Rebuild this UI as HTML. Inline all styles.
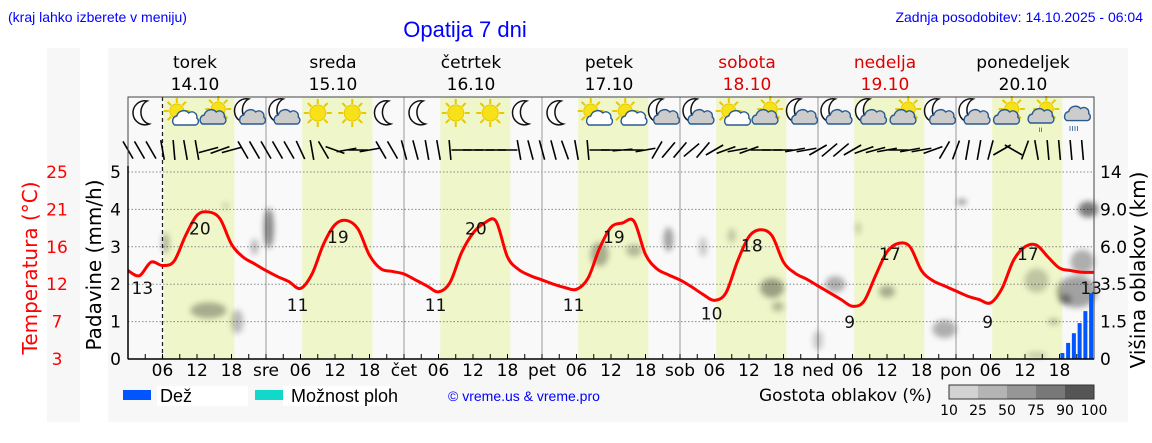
<!DOCTYPE html>
<html><head><meta charset="utf-8">
<style>
body{margin:0;background:#fff;width:1152px;height:443px;overflow:hidden;font-family:"Liberation Sans",sans-serif;}
svg{display:block}
</style></head>
<body>
<svg id="chart" width="1152" height="443" viewBox="0 0 1152 443" font-family="DejaVu Sans, Liberation Sans, sans-serif">
<defs>
<filter id="blur" x="-50%" y="-50%" width="200%" height="200%"><feGaussianBlur stdDeviation="3"/></filter>
</defs>
<rect x="47" y="48" width="33" height="374" fill="#f7f7f7"/>
<rect x="108" y="48" width="1020" height="374" fill="#f7f7f7"/>
<text x="8" y="22" font-size="14" fill="#0000ff" font-family="Liberation Sans, sans-serif">(kraj lahko izberete v meniju)</text>
<text x="465" y="37" font-size="22" fill="#0000ff" text-anchor="middle" font-family="Liberation Sans, sans-serif">Opatija 7 dni</text>
<text x="1143" y="22" font-size="14" fill="#0000ff" text-anchor="end" font-family="Liberation Sans, sans-serif">Zadnja posodobitev: 14.10.2025 - 06:04</text>
<g id="days"></g>
<rect x="128" y="97" width="966" height="262" fill="#f9f9f9"/>
<g id="bands"></g>
<g id="grid"></g>
<g id="clouds" filter="url(#blur)"></g>
<g id="icons"></g>
<g id="wind"></g>
<g id="bars"></g>
<g id="temp"></g>
<g id="axes"></g>
<text transform="translate(37,268) rotate(-90)" font-size="20" fill="#ff0000" text-anchor="middle">Temperatura (°C)</text>
<text transform="translate(101,265) rotate(-90)" font-size="20" fill="#000" text-anchor="middle">Padavine (mm/h)</text>
<text transform="translate(1145,270) rotate(-90)" font-size="20" fill="#000" text-anchor="middle">Višina oblakov (km)</text>
<g>
<rect x="123" y="390" width="28" height="10" fill="#0055ff"/>
<rect x="157" y="386" width="91" height="20" fill="#fff"/>
<text x="160" y="402" font-size="18" fill="#000" font-family="Liberation Sans, sans-serif">Dež</text>
<rect x="255" y="390" width="28" height="10" fill="#11d8c8"/>
<rect x="283" y="386" width="107" height="20" fill="#fff"/>
<text x="291" y="402" font-size="18" fill="#000" font-family="Liberation Sans, sans-serif">Možnost ploh</text>
<text x="448" y="401" font-size="14" fill="#0000ff" font-family="Liberation Sans, sans-serif">© vreme.us &amp; vreme.pro</text>
<text x="759" y="401" font-size="17" fill="#000">Gostota oblakov (%)</text>
<g id="cbar"></g>
</g>
</svg>
<script>
const dayNames=["torek","sreda","četrtek","petek","sobota","nedelja","ponedeljek"];
const dayDates=["14.10","15.10","16.10","17.10","18.10","19.10","20.10"];
const dayAbbr=["","sre","čet","pet","sob","ned","pon"];
const weekend=[false,false,false,false,true,true,false];
const tempLeftTicks=[3,7,12,16,21,25];
const precipTicks=[0,1,2,3,4,5];
const cloudTicks=["0","1.5","3.5","6.0","9.0","14"];
// temperature every 2 hours, 14.10 00:00 .. 21.10 00:00
const temps=[13.4,12.8,14.4,14.0,14.5,17.5,19.9,20.3,19.5,16.5,15.0,14.2,
13.4,12.7,12.1,11.3,13.0,16.5,18.8,19.3,18.3,15.2,13.6,13.3,
13.0,12.3,11.6,10.9,12.0,15.5,17.8,19.0,19.2,15.0,13.5,12.8,
12.3,11.8,11.4,11.2,12.5,16.0,18.5,19.0,19.2,15.3,13.6,12.9,
12.3,11.5,10.6,9.9,10.8,14.5,17.4,18.2,17.5,14.4,13.1,12.4,
11.6,10.8,10.0,9.2,9.8,12.8,15.6,16.6,16.2,13.4,12.2,11.6,
11.0,10.4,10.0,9.6,11.3,14.6,16.2,16.4,15.0,13.7,13.4,13.2,13.2];
const tempLabelHours=[2.5,12.5,29.5,36.5,53.5,60.5,77.5,84.5,101.5,108.5,125.5,132.5,149.5,156.5,167.5];
const tempLabelValues=[13,20,11,19,11,20,11,19,10,18,9,17,9,17,13];
const rainHours=[162,163,164,165,166,167];
const rainValues=[0.16,0.43,0.69,0.96,1.28,1.76];
const iconTypes=["m","sc","cs","mc","mc","s","s","m","m","s","s","m","m","sc","sc","mc","mc","sc","cs","mc","mc","mc","cs","mc","mc","cs","cr","r"];
const windAngles=[60,60,60,80,85,80,80,-15,-20,-15,60,60,
60,60,60,65,80,60,20,-10,0,-10,60,60,
75,75,80,80,85,0,0,0,0,0,80,75,
75,75,70,80,85,0,0,-5,0,-10,-60,-50,
-50,-40,-50,-30,-20,-10,-20,0,0,0,-10,-10,
-30,-40,-40,-30,-20,-15,-10,0,-10,-10,-20,-60,
-70,-80,-80,-75,-30,30,-70,80,85,85,85,85];
const cloudBlobs=[[6.5,3.1,4,10,0.25],[14,1.3,18,8,0.3],[19,1.0,6,12,0.25],[17,4.1,3,3,0.2],[24.5,3.5,5,20,0.45],[22,3.0,4,8,0.25],
[82,2.8,9,12,0.3],[88,2.9,8,6,0.25],[94,3.2,5,12,0.35],[100,3.0,4,10,0.2],[105,3.3,4,7,0.2],
[112,1.9,12,10,0.35],[113,1.4,6,5,0.25],[123,2.0,10,8,0.3],[132,1.8,8,6,0.3],[127,3.5,2,6,0.25],[142,0.8,12,9,0.3],[120,0.5,5,10,0.2],
[145,4.2,5,3,0.4],[158,0.1,10,3,0.2],[161,1.0,6,3,0.25],[167,4.0,10,8,0.5],[165,1.8,20,16,0.35],[163,1.6,6,5,0.35],[166,2.6,12,12,0.3],[158,2.1,12,12,0.2]];
const cbarColors=["#d2d2d2","#b4b4b4","#969696","#787878","#555555"];
const cbarLabels=["10","25","50","75","90","100"];

const NS="http://www.w3.org/2000/svg";
const X0=128,X1=1094,Y0=359,UNIT=37.4,HOURS=168;
const xH=h=>X0+h*(X1-X0)/HOURS;
const yP=p=>Y0-p*UNIT;
const yT=t=>yP((t-3)/4.4);
function mk(tag,attrs,parent,text){const e=document.createElementNS(NS,tag);for(const k in attrs)e.setAttribute(k,attrs[k]);if(text!==undefined)e.textContent=text;parent.appendChild(e);return e;}
const G=id=>document.getElementById(id);

dayNames.forEach((n,i)=>{
  const cx=xH(i*24+12)-2, col=weekend[i]?"#dd0000":"#000";
  let t=mk("text",{x:cx,y:68,"font-size":17,"text-anchor":"middle",fill:col},G("days"),n);
  
  
  t=mk("text",{x:cx,y:90,"font-size":17,"text-anchor":"middle",fill:col},G("days"),dayDates[i]);
  
  
  const b=mk("rect",{x:xH(i*24+6.3),y:97,width:xH(18.5)-xH(6.3),height:262,fill:"#eff6c9"},G("bands"));
  
  
});
precipTicks.forEach(p=>{if(p>0){const l=mk("line",{x1:X0,x2:X1,y1:yP(p),y2:yP(p),stroke:"#888","stroke-dasharray":"1.5,2","stroke-width":1},G("grid"));
  
  }});
for(let d=1;d<7;d++){const l=mk("line",{x1:xH(d*24),x2:xH(d*24),y1:97,y2:Y0,stroke:"#999","stroke-width":1},G("grid"));
  
  }
const nowL=mk("line",{x1:xH(6),x2:xH(6),y1:97,y2:Y0,stroke:"#222","stroke-dasharray":"4,3","stroke-width":1.3},G("grid"));



cloudBlobs.forEach(c=>{const e=mk("ellipse",{cx:xH(c[0]),cy:yP(c[1]),rx:c[2],ry:c[3],fill:"#000","fill-opacity":c[4]},G("clouds"));
  
  });

function sun(g,x,y,r){for(let a=0;a<8;a++){const an=a*Math.PI/4;mk("line",{x1:x+Math.cos(an)*(r+1),y1:y+Math.sin(an)*(r+1),x2:x+Math.cos(an)*(r+6),y2:y+Math.sin(an)*(r+6),stroke:"#e8c800","stroke-width":2},g);}mk("circle",{cx:x,cy:y,r:r,fill:"#f7e21a",stroke:"#e8c800"},g);}
function moon(g,x,y){mk("path",{d:`M${x+4},${y-12} A12,12 0 1 0 ${x+6},${y+11} A10,12 0 0 1 ${x+4},${y-12}Z`,fill:"#fff",stroke:"#111","stroke-width":1.5},g);}
function cloud(g,x,y,s,fill){mk("path",{d:`M${x-11*s},${y+6*s} a5,5 0 0 1 2,-9 a7,7 0 0 1 12,-3 a5,5 0 0 1 8,5 a4,4 0 0 1 -1,7 Z`,fill:fill,stroke:"#2a5a90","stroke-width":1.4},g);}
iconTypes.forEach((t,i)=>{
  const x=xH(i*6+3),y=113;
  const g=mk("g",{},G("icons"));
  
  
  if(t==="m")moon(g,x-2,y);
  if(t==="mc"){moon(g,x-4,y-2);cloud(g,x+4,y+5,1,"#ccc");}
  if(t==="s")sun(g,x,y,8);
  if(t==="sc"){sun(g,x-3,y-2,7);cloud(g,x+6,y+6,1,"#fff");}
  if(t==="cs"){sun(g,x+4,y-4,7);cloud(g,x-1,y+5,1,"#ccc");}
  if(t==="cr"){sun(g,x+4,y-4,7);cloud(g,x-1,y+4,1,"#ccc");mk("text",{x:x-4,y:y+19,"font-size":8,fill:"#2a5a90"},g,"ıı");}
  if(t==="r"){cloud(g,x+2,y+1,1.1,"#ccc");mk("text",{x:x-8,y:y+18,"font-size":9,fill:"#2a5a90"},g,"ıııı");}
});

windAngles.forEach((a,i)=>{
  const x=xH(i*2),y=150,r=a*Math.PI/180,L=10;
  const dx=Math.cos(r)*L,dy=Math.sin(r)*L;
  const l=mk("line",{x1:x-dx,y1:y-dy,x2:x+dx,y2:y+dy,stroke:"#000","stroke-width":1.6},G("wind"));
  
  
});

rainHours.forEach((h,i)=>{const r=mk("rect",{x:xH(h+0.5)-2,y:yP(rainValues[i]),width:4,height:yP(0)-yP(rainValues[i]),fill:"#0055ff"},G("bars"));
  
  });

const pts=temps.map((t,i)=>[xH(i*2),yT(t)]);
let d=`M${pts[0][0]},${pts[0][1]}`;
for(let i=0;i<pts.length-1;i++){const p0=pts[Math.max(0,i-1)],p1=pts[i],p2=pts[i+1],p3=pts[Math.min(pts.length-1,i+2)];
  d+=` C${p1[0]+(p2[0]-p0[0])/6},${p1[1]+(p2[1]-p0[1])/6} ${p2[0]-(p3[0]-p1[0])/6},${p2[1]-(p3[1]-p1[1])/6} ${p2[0]},${p2[1]}`;}
const tl=mk("path",{d:d,fill:"none",stroke:"#ff0000","stroke-width":3,"stroke-linejoin":"round"},G("temp"));


tempLabelValues.forEach((v,i)=>{const t=mk("text",{x:xH(tempLabelHours[i]),y:yT(v)+20,"font-size":17,"text-anchor":"middle",fill:"#111"},G("temp"),v);
  
  });

const A=G("axes");
let e=mk("path",{d:`M${X0},97 H${X1} V${Y0} H${X0} Z`,fill:"none",stroke:"#444","stroke-width":1},A);


e=mk("line",{x1:X0,x2:X0,y1:166,y2:Y0,stroke:"#000","stroke-width":1.5},A);


e=mk("line",{x1:X0,x2:X1,y1:Y0,y2:Y0,stroke:"#000","stroke-width":1.5},A);


precipTicks.forEach(p=>{const t=mk("text",{x:121,y:yP(p)+6,"font-size":17,"text-anchor":"end",fill:"#000"},A,p);
  
  });
tempLeftTicks.forEach((v,i)=>{const t=mk("text",{x:57,y:yP(i)+6,"font-size":17,"text-anchor":"middle",fill:"#ff0000"},A,v);
  
  });
cloudTicks.forEach((v,i)=>{const t=mk("text",{x:1100,y:yP(i)+6,"font-size":17,fill:"#000"},A,v);
  
  });
for(let h=3;h<HOURS;h+=3){mk("line",{x1:xH(h),x2:xH(h),y1:Y0,y2:Y0-5,stroke:"#000","stroke-width":1},A);}
for(let d2=0;d2<7;d2++){[6,12,18].forEach(h=>{const t=mk("text",{x:xH(d2*24+h),y:376,"font-size":17,"text-anchor":"middle",fill:"#000"},A,String(h).padStart(2,"0"));
  
  });
  if(dayAbbr[d2]){const t=mk("text",{x:xH(d2*24),y:376,"font-size":17,"text-anchor":"middle",fill:"#000"},A,dayAbbr[d2]);
  
  }}

const C=G("cbar");
cbarColors.forEach((c,i)=>{const r=mk("rect",{x:949+i*29,y:385,width:29,height:14,fill:c},C);
  
  });
mk("rect",{x:949,y:385,width:145,height:14,fill:"none",stroke:"#333"},C);
cbarLabels.forEach((l,i)=>{const t=mk("text",{x:949+i*29,y:415,"font-size":14,"text-anchor":"middle",fill:"#000"},C,l);
  
  });
</script>
</body></html>
